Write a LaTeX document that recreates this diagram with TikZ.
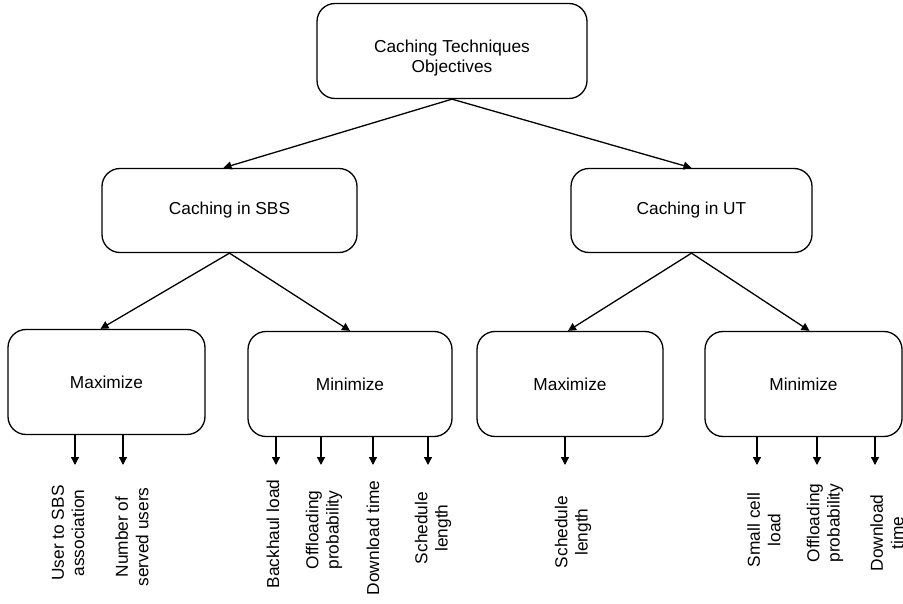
\documentclass[tikz,border=0pt]{standalone}
\usepackage{fontspec}
\setmainfont{Liberation Sans}
\usepackage{tikz}
\usetikzlibrary{arrows.meta}

\begin{document}
\begin{tikzpicture}[x=1pt,y=-1pt,
  box/.style={draw,rounded corners=18pt,line width=1.3pt,align=center,inner sep=0pt,
    font=\fontsize{17.3}{20.4}\selectfont},
  lbl/.style={rotate=90,align=center,inner sep=0pt,font=\fontsize{17.3}{20.4}\selectfont},
  conn/.style={-{Triangle[length=8pt,width=8pt]},line width=1.3pt}]
\useasboundingbox (0,0) rectangle (903,604);

% Boxes
\node[box,minimum width=270,minimum height=95] (root) at (452,51) {\rule{0pt}{26pt}Caching Techniques\\Objectives};
\node[box,minimum width=255,minimum height=84] (sbs) at (229.5,210.5) {Caching in SBS};
\node[box,minimum width=241,minimum height=84] (ut) at (691.5,210.5) {Caching in UT};
\node[box,minimum width=197,minimum height=105] (sbsmax) at (106.5,382) {Maximize};
\node[box,minimum width=204,minimum height=105] (sbsmin) at (350,384) {Minimize};
\node[box,minimum width=186,minimum height=105] (utmax) at (570,384) {Maximize};
\node[box,minimum width=197,minimum height=105] (utmin) at (803.5,384) {Minimize};

% Tree
\draw[conn] (root.south) -- ([xshift=-6pt]sbs.north);
\draw[conn] (root.south) -- (ut.north);
\draw[conn] (sbs.south) -- ([xshift=-6pt]sbsmax.north);
\draw[conn] (sbs.south) -- (sbsmin.north);
\draw[conn] (ut.south) -- ([xshift=-2pt]utmax.north);
\draw[conn] (ut.south) -- ([xshift=6pt]utmin.north);

% Objectives
\foreach \x/\b in {75/sbsmax,123/sbsmax,276/sbsmin,321/sbsmin,373/sbsmin,428/sbsmin,
                   565/utmax,757/utmin,817/utmin,875/utmin}{
  \coordinate (tip) at (\x,465);
  \draw[conn] (tip |- \b.south) -- (tip);
}

\node[lbl] (usr) at (68,533) {User to SBS\\association};
\node[lbl] (num) at (132,537) {Number of\\served users};
\node[lbl] (bh) at (273,534) {Backhaul load};
\node[lbl] (offa) at (324,530) {Offloading\\probability};
\node[lbl] (dla) at (373,538) {Download time};
\node[lbl] (scha) at (433,528) {Schedule\\length};
\node[lbl] (schb) at (573,532) {Schedule\\length};
\node[lbl] (scl) at (764,530) {Small cell\\load};
\node[lbl] (offb) at (825,523) {Offloading\\probability};
\node[lbl] (dlb) at (887,533) {Download\\time};

\end{tikzpicture}
\end{document}
